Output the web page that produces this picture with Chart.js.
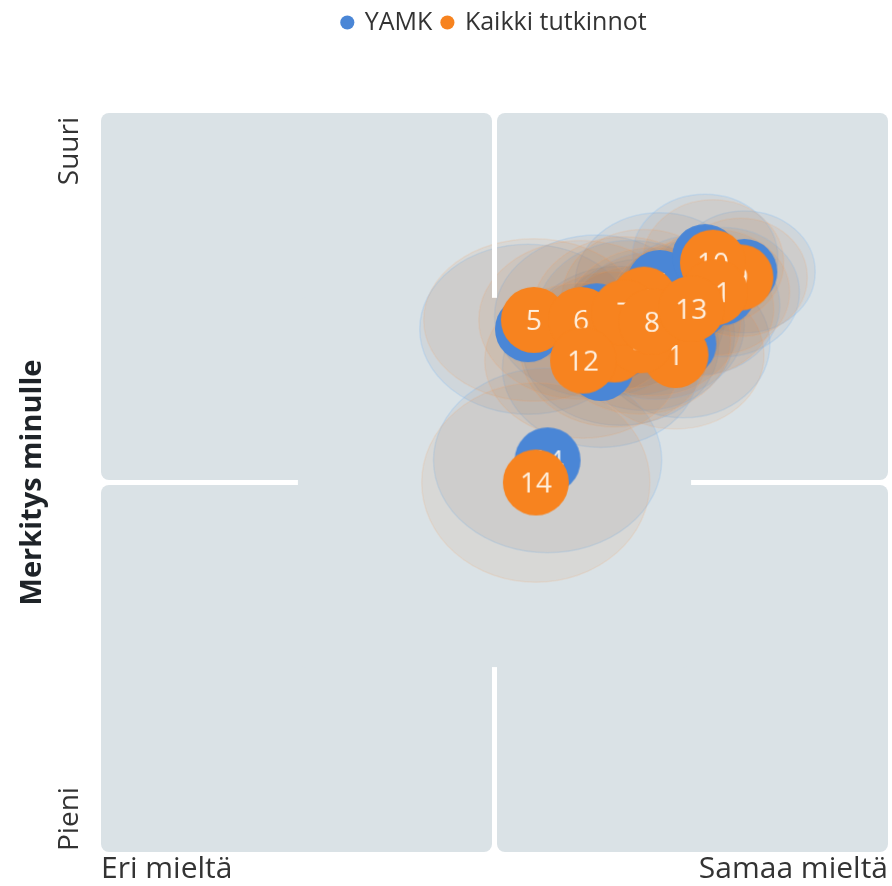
<!DOCTYPE html>
<html>
<head>
<meta charset="utf-8">
<script src="https://cdn.jsdelivr.net/npm/chart.js@4.4.0/dist/chart.umd.min.js"></script>
<style>
  body { margin: 0; background: #fff; }
  #wrap { width: 892px; height: 886px; }
</style>
</head>
<body>
<div id="wrap"><canvas id="bubbleChart"></canvas></div>
<script>
// Statement numbers shown inside the bubbles
const itemLabels = ['1', '2', '3', '4', '5', '6', '7', '8', '9', '10', '11', '12', '13', '14'];
const seriesNames = ['YAMK', 'Kaikki tutkinnot'];

// Mean answers, x = agreement (1..5), y = importance (1..5)
const yamkX = [3.96, 3.64, 3.76, 3.84, 3.17, 3.52, 3.69, 3.82, 4.27, 4.07, 4.16, 3.54, 4.03, 3.27];
const yamkY = [3.75, 3.74, 3.80, 4.08, 3.83, 3.90, 3.89, 3.85, 4.14, 4.22, 4.03, 3.62, 3.96, 3.12];
const kaikkiX = [3.92, 3.61, 3.74, 3.76, 3.20, 3.44, 3.66, 3.80, 4.25, 4.11, 4.12, 3.45, 4.00, 3.21];
const kaikkiY = [3.69, 3.72, 3.77, 3.99, 3.88, 3.88, 3.92, 3.87, 4.11, 4.19, 4.03, 3.66, 3.94, 3.00];

// Spread of the answers, drawn as soft halos
const yamkSpreadX = [0.44, 0.50, 0.46, 0.43, 0.55, 0.52, 0.48, 0.45, 0.36, 0.37, 0.39, 0.50, 0.42, 0.58];
const yamkSpreadY = [0.40, 0.43, 0.41, 0.38, 0.46, 0.44, 0.42, 0.40, 0.33, 0.34, 0.35, 0.43, 0.38, 0.50];
const kaikkiSpreadX = [0.45, 0.48, 0.46, 0.42, 0.56, 0.52, 0.47, 0.45, 0.34, 0.36, 0.38, 0.50, 0.42, 0.58];
const kaikkiSpreadY = [0.40, 0.42, 0.40, 0.38, 0.44, 0.43, 0.41, 0.40, 0.32, 0.34, 0.34, 0.42, 0.37, 0.54];

const xTickLabels = ['Eri mieltä', 'Samaa mieltä'];
const yTickLabels = ['Pieni', 'Suuri'];
const yTitle = 'Merkitys minulle';

const BLUE = '#4a86d6';
const ORANGE = '#f7831f';
const PANEL = '#dae2e6';
const BUBBLE_R = 33;

Chart.defaults.font.family = '"Open Sans", sans-serif';

function makeBadge(color, text) {
    const c = document.createElement('canvas');
    c.width = c.height = BUBBLE_R * 2 + 2;
    const g = c.getContext('2d');
    const m = BUBBLE_R + 1;
    g.fillStyle = color;
    g.beginPath();
    g.arc(m, m, BUBBLE_R, 0, Math.PI * 2);
    g.fill();
    g.fillStyle = 'rgba(255, 250, 240, 0.92)';
    g.font = '28px "Open Sans"';
    g.textAlign = 'center';
    g.textBaseline = 'alphabetic';
    g.fillText(text, m, m + 10);
    return c;
}

function drawHalos(chart, xs, ys, sx, sy, fill, stroke) {
    const { ctx, scales: { x, y } } = chart;
    for (let i = 0; i < xs.length; i++) {
        const px = x.getPixelForValue(xs[i]);
        const py = y.getPixelForValue(ys[i]);
        const rx = x.getPixelForValue(xs[i] + sx[i]) - px;
        const ry = py - y.getPixelForValue(ys[i] + sy[i]);
        ctx.beginPath();
        ctx.ellipse(px, py, rx, ry, 0, 0, Math.PI * 2);
        ctx.fillStyle = fill;
        ctx.fill();
        ctx.strokeStyle = stroke;
        ctx.lineWidth = 1.5;
        ctx.stroke();
    }
}

// quadrant panels, spread halos, then the white quadrant gaps
const background = {
    id: 'background',
    beforeDatasetsDraw(chart) {
        const { ctx, chartArea: a, scales: { x, y } } = chart;
        const cx = x.getPixelForValue((x.min + x.max) / 2);
        const cy = y.getPixelForValue((y.min + y.max) / 2);
        const gap = 2.5;
        const box = (l, t, r, b) => {
            ctx.beginPath();
            ctx.roundRect(l, t, r - l, b - t, 8);
            ctx.fill();
        };
        ctx.save();
        ctx.fillStyle = PANEL;
        box(a.left, a.top, cx - gap, cy - gap);
        box(cx + gap, a.top, a.right, cy - gap);
        box(a.left, cy + gap, cx - gap, a.bottom);
        box(cx + gap, cy + gap, a.right, a.bottom);
        const il = x.getPixelForValue(2), ir = x.getPixelForValue(4);
        const it = y.getPixelForValue(4), ib = y.getPixelForValue(2);
        box(il, it, ir, ib);

        ctx.beginPath();
        ctx.rect(a.left, a.top, a.right - a.left, a.bottom - a.top);
        ctx.clip();
        drawHalos(chart, yamkX, yamkY, yamkSpreadX, yamkSpreadY, 'rgba(140, 140, 150, 0.13)', 'rgba(140, 190, 240, 0.28)');
        drawHalos(chart, kaikkiX, kaikkiY, kaikkiSpreadX, kaikkiSpreadY, 'rgba(205, 120, 55, 0.09)', 'rgba(245, 165, 100, 0.14)');

        ctx.fillStyle = '#fff';
        ctx.fillRect(cx - gap, a.top, gap * 2, it - a.top);
        ctx.fillRect(cx - gap, ib, gap * 2, a.bottom - ib);
        ctx.fillRect(a.left, cy - gap, il - a.left, gap * 2);
        ctx.fillRect(ir, cy - gap, a.right - ir, gap * 2);
        ctx.restore();
    }
};

// rotated end labels of the y axis
const yEndLabels = {
    id: 'yEndLabels',
    afterDraw(chart) {
        const { ctx, scales: { y } } = chart;
        const bx = y.right - 23;
        const put = (text, py, align) => {
            ctx.save();
            ctx.font = '28px "Open Sans"';
            ctx.fillStyle = '#333';
            ctx.textBaseline = 'alphabetic';
            ctx.textAlign = align;
            ctx.translate(bx, py);
            ctx.rotate(-Math.PI / 2);
            ctx.fillText(text, 0, 0);
            ctx.restore();
        };
        put(yTickLabels[1], y.getPixelForValue(y.max) + 4, 'right');
        put(yTickLabels[0], y.getPixelForValue(y.min) - 1, 'left');
    }
};

const legendSpace = {
    id: 'legendSpace',
    beforeInit(chart) {
        const fit = chart.legend.fit;
        chart.legend.fit = function () {
            fit.bind(chart.legend)();
            this.height = 113;
        };
    }
};

function points(xs, ys) {
    return xs.map((v, i) => ({ x: v, y: ys[i] }));
}

function init() {
    const yamkBadges = itemLabels.map(t => makeBadge(BLUE, t));
    const kaikkiBadges = itemLabels.map(t => makeBadge(ORANGE, t));

    new Chart(document.getElementById('bubbleChart'), {
        type: 'bubble',
        data: {
            datasets: [
                {
                    label: seriesNames[0],
                    data: points(yamkX, yamkY),
                    backgroundColor: BLUE,
                    borderWidth: 0,
                    radius: BUBBLE_R,
                    pointStyle: ctx => yamkBadges[ctx.dataIndex],
                    order: 1
                },
                {
                    label: seriesNames[1],
                    data: points(kaikkiX, kaikkiY),
                    backgroundColor: ORANGE,
                    borderWidth: 0,
                    radius: BUBBLE_R,
                    pointStyle: ctx => kaikkiBadges[ctx.dataIndex],
                    order: 0
                }
            ]
        },
        options: {
            responsive: true,
            maintainAspectRatio: false,
            animation: false,
            layout: { padding: { right: 4 }, autoPadding: false },
            plugins: {
                legend: {
                    position: 'top',
                    fullSize: false,
                    labels: {
                        font: { size: 25 },
                        color: '#333',
                        usePointStyle: true,
                        pointStyle: 'circle',
                        boxWidth: 10,
                        boxHeight: 10,
                        padding: 10,
                        sort: (a, b) => a.datasetIndex - b.datasetIndex
                    }
                },
                tooltip: { enabled: false }
            },
            scales: {
                x: {
                    min: 1,
                    max: 5,
                    grid: { display: false, drawTicks: false },
                    border: { display: false },
                    ticks: {
                        stepSize: 4,
                        align: 'inner',
                        maxRotation: 0,
                        autoSkip: false,
                        padding: 2,
                        color: '#333',
                        font: { size: 30, lineHeight: 1.0 },
                        callback: (v, i) => xTickLabels[i]
                    },
                    afterFit(scale) {
                        scale.paddingLeft = 0;
                        scale.paddingRight = 0;
                    }
                },
                y: {
                    min: 1,
                    max: 5,
                    grid: { display: false, drawTicks: false },
                    border: { display: false },
                    ticks: { display: false },
                    title: {
                        display: true,
                        text: yTitle,
                        color: '#1e2328',
                        font: { size: 29, weight: 'bold' },
                        padding: { top: 15, bottom: 0 }
                    },
                    afterFit(scale) {
                        scale.width = 101;
                    }
                }
            }
        },
        plugins: [background, yEndLabels, legendSpace]
    });
}

document.fonts.load('28px "Open Sans"').then(init, init);
</script>
</body>
</html>
